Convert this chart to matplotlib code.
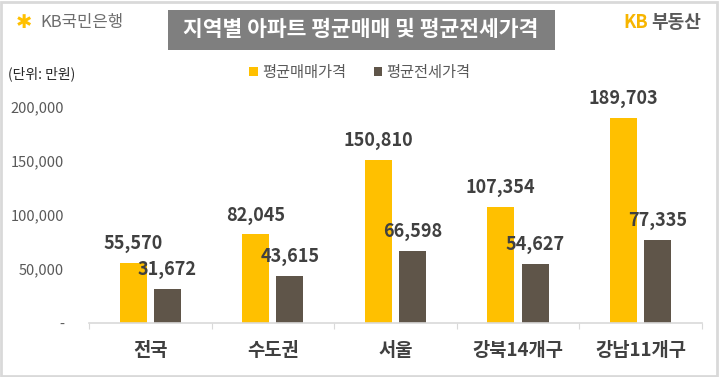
import numpy as np
import matplotlib.pyplot as plt
from matplotlib.patches import Rectangle

plt.rcParams['font.family'] = ['Noto Sans CJK KR', 'DejaVu Sans']

regions = ['전국', '수도권', '서울', '강북14개구', '강남11개구']
sale_price = [55570, 82045, 150810, 107354, 189703]
jeonse_price = [31672, 43615, 66598, 54627, 77335]
series_names = ['평균매매가격', '평균전세가격']
y_ticks = [0, 50000, 100000, 150000, 200000]
y_tick_labels = ['-', '50,000', '100,000', '150,000', '200,000']

yellow = '#FFC000'
brown = '#5F5549'
text_dark = '#404040'
text_gray = '#595959'

fig = plt.figure(figsize=(7.2, 3.77), dpi=100)
ax = fig.add_axes([0.1236, 0.143, 0.851, 0.573])

x = np.arange(len(regions))
w = 0.22
off = 0.14
b1 = ax.bar(x - off, sale_price, w, color=yellow, label=series_names[0])
b2 = ax.bar(x + off, jeonse_price, w, color=brown, label=series_names[1])

for bars in (b1, b2):
    for rect in bars:
        h = rect.get_height()
        ax.annotate(f'{h:,.0f}', (rect.get_x() + rect.get_width() / 2, h),
                    xytext=(0, 7), textcoords='offset points',
                    ha='center', va='bottom', fontsize=13, fontweight='bold',
                    color=text_dark, annotation_clip=False)

ax.set_xlim(-0.5, len(regions) - 0.5)
ax.set_ylim(0, 200000)
ax.set_yticks(y_ticks)
ax.set_yticklabels(y_tick_labels, fontsize=10.5, color=text_gray)
ax.tick_params(axis='y', length=0, pad=18)

# category boundaries as tick marks, names as minor labels
ax.set_xticks(np.arange(-0.5, len(regions), 1.0))
ax.set_xticklabels([])
ax.set_xticks(x, minor=True)
ax.set_xticklabels(regions, minor=True, fontsize=13.5, fontweight='bold', color=text_dark)
ax.tick_params(axis='x', which='major', length=4, color='#d9d9d9', direction='out')
ax.tick_params(axis='x', which='minor', length=0, pad=13)

for s in ['top', 'right', 'left']:
    ax.spines[s].set_visible(False)
ax.spines['bottom'].set_color('#d9d9d9')
ax.spines['bottom'].set_linewidth(1.2)

leg = fig.legend(loc='center', bbox_to_anchor=(0.5, 0.808), ncol=2, frameon=False,
                 fontsize=11, handlelength=0.55, handleheight=0.55, handletextpad=0.3,
                 columnspacing=1.8)
for t in leg.get_texts():
    t.set_color(text_gray)

# title box
fig.patches.append(Rectangle((168 / 720, 1 - 50 / 377), 387 / 720, 40 / 377,
                             transform=fig.transFigure, facecolor='#7f7f7f',
                             edgecolor='none', zorder=0))
fig.text(361 / 720, 1 - 30 / 377, '지역별 아파트 평균매매 및 평균전세가격',
         ha='center', va='center', fontsize=15.5, fontweight='bold', color='white')

# logos
fig.text(16 / 720, 1 - 22 / 377, '✱', ha='left', va='center', fontsize=14,
         color=yellow, family=['DejaVu Sans'])
fig.text(40 / 720, 1 - 22 / 377, 'KB국민은행', ha='left', va='center',
         fontsize=12, color='#6d6d6d')
fig.text(623 / 720, 1 - 22 / 377, 'KB', ha='left', va='center', fontsize=13,
         fontweight='bold', color='#F7B500')
fig.text(651 / 720, 1 - 22 / 377, '부동산', ha='left', va='center', fontsize=13,
         fontweight='bold', color='#595959')

fig.text(8 / 720, 1 - 74 / 377, '(단위: 만원)', ha='left', va='center',
         fontsize=10, color='#262626')

# outer frame
fig.patches.append(Rectangle((0.002, 0.003), 0.994, 0.992, transform=fig.transFigure,
                             facecolor='none', edgecolor='#d9d9d9', linewidth=2))

fig.savefig('out.png', dpi=100)
